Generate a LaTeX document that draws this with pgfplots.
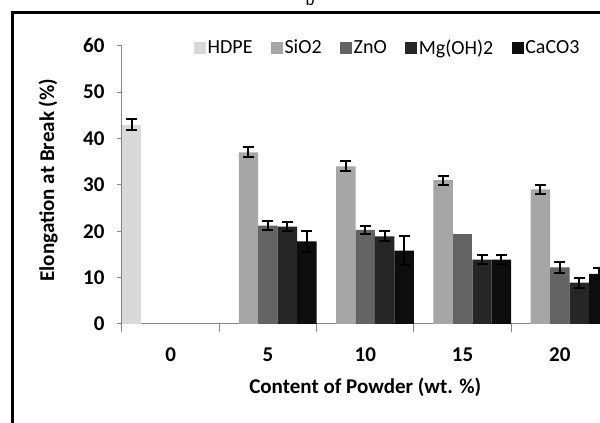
\documentclass[border=0pt]{standalone}
\usepackage{fontspec}
\setmainfont{Carlito}
\usepackage{pgfplots}
\pgfplotsset{compat=1.18}
\definecolor{cHDPE}{HTML}{D9D9D9}
\definecolor{cSiO}{HTML}{A6A6A6}
\definecolor{cZnO}{HTML}{636363}
\definecolor{cMg}{HTML}{262626}
\definecolor{cCa}{HTML}{0D0D0D}
\definecolor{axgray}{HTML}{868686}
\begin{document}
\begin{tikzpicture}
\begin{axis}[
  scale only axis, width=486.5pt, height=278.3pt,
  xmin=-0.5, xmax=4.5, ymin=0, ymax=60,
  axis lines*=left,
  axis line style={axgray, line width=1pt},
  ybar, bar width=19.46pt,
  ytick={0,10,...,60},
  xtick={0,1,2,3,4}, xticklabels={0,5,10,15,20},
  minor xtick={-0.5,0.5,1.5,2.5,3.5,4.5},
  major x tick style={draw=none},
  minor x tick style={axgray, line width=1pt},
  major y tick style={axgray, line width=1pt},
  tick align=outside,
  major tick length=5pt, minor tick length=8pt,
  /pgf/number format/assume math mode=true,
  tick label style={font=\fontsize{21}{22}\selectfont\bfseries},
  yticklabel style={xshift=-9pt},
  xticklabel style={yshift=-15pt},
  xlabel={Content of Powder (wt. \%)},
  ylabel={Elongation at Break (\%)},
  label style={font=\fontsize{21}{23}\selectfont\bfseries},
  xlabel style={at={([yshift=-63pt]rel axis cs:0.5,0)}, anchor=center},
  ylabel style={at={([xshift=-74pt]rel axis cs:0,0.517)}, anchor=center},
  legend columns=-1,
  legend style={at={([xshift=72pt,yshift=-2pt]rel axis cs:0,1)}, anchor=west, draw=none, fill=none,
    inner sep=0pt, font=\fontsize{20}{22}\selectfont,
    nodes={inner sep=1.5pt},
    /tikz/every even column/.append style={column sep=17pt}},
  legend image code/.code={\fill[#1] (0pt,-6pt) rectangle (12pt,6pt);},
  error bars/y dir=both, error bars/y explicit,
  error bars/error bar style={line width=2pt, black},
  error bars/error mark options={rotate=90, mark size=5.5pt, line width=2pt, black},
]
\coordinate (O) at (rel axis cs:0,0);
\addplot[fill=cHDPE, draw=none, bar shift=-38.92pt] coordinates {(0,43) +- (0,1.2)};
\addplot[fill=cSiO, draw=none, bar shift=-19.46pt] coordinates {
  (1,37) +- (0,1.1) (2,34) +- (0,1.1) (3,31) +- (0,1.0) (4,29) +- (0,1.0)};
\addplot[fill=cZnO, draw=none, bar shift=0pt] coordinates {
  (1,21.2) +- (0,1.0) (2,20.3) +- (0,0.9) (4,12.2) +- (0,1.1)};
\addplot[fill=cMg, draw=none, bar shift=19.46pt] coordinates {
  (1,21.0) +- (0,1.0) (2,18.9) +- (0,1.1) (3,13.9) +- (0,1.0) (4,8.9) +- (0,1.1)};
\addplot[fill=cCa, draw=none, bar shift=38.92pt] coordinates {
  (1,17.8) +- (0,2.2) (2,15.8) +- (0,3.1) (3,13.9) +- (0,1.0) (4,10.8) +- (0,1.2)};
\addplot[fill=cZnO, draw=none, bar shift=0pt, forget plot, error bars/y dir=none] coordinates {(3,19.3)};
\legend{HDPE, SiO2, ZnO, Mg(OH)2, CaCO3}
\end{axis}
\begin{scope}[shift={(O)}, xshift=-122pt, yshift=-99pt, x=1pt, y=1pt]
\draw[line width=3pt] (13,-20) -- (13,410) -- (640,410);
\node[font=\fontsize{17}{18}\selectfont, anchor=base] at (310,417) {b};
\end{scope}
\pgfresetboundingbox
\path[use as bounding box] (O) ++(-122pt,-99pt) rectangle ++(600pt,423pt);
\end{tikzpicture}
\end{document}
